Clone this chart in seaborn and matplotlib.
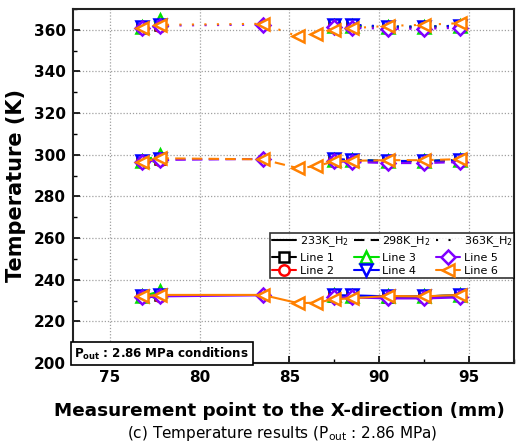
import numpy as np
import pandas as pd
import matplotlib
matplotlib.use("Agg")
import matplotlib.pyplot as plt
import seaborn as sns
from matplotlib.lines import Line2D
from matplotlib.ticker import AutoMinorLocator

# measurement positions (mm)
x_short = [76.8, 77.8, 87.5, 88.5, 90.5, 92.5, 94.5]
x_line5 = [76.8, 77.8, 83.5, 87.5, 88.5, 90.5, 92.5, 94.5]
x_line6 = [76.8, 77.8, 83.5, 85.5, 86.5, 87.5, 88.5, 90.5, 92.5, 94.5]

# 233K_H2
t233_l1 = [232.0, 232.5, 232.0, 232.0, 231.5, 232.0, 232.5]
t233_l2 = [231.5, 232.0, 232.0, 231.5, 231.5, 231.5, 232.0]
t233_l3 = [232.0, 234.5, 232.5, 232.0, 232.0, 232.0, 232.5]
t233_l4 = [232.0, 232.5, 232.5, 232.5, 232.0, 232.0, 232.5]
t233_l5 = [231.5, 232.0, 232.5, 231.5, 231.5, 231.0, 231.0, 231.5]
t233_l6 = [232.0, 232.7, 232.7, 228.7, 229.0, 230.6, 231.1, 232.2, 232.0, 232.7]

# 298K_H2
t298_l1 = [297.0, 298.0, 297.5, 297.5, 297.0, 297.0, 297.5]
t298_l2 = [296.5, 297.5, 297.0, 297.0, 296.5, 297.0, 297.0]
t298_l3 = [297.0, 300.0, 297.5, 297.5, 297.0, 297.0, 297.5]
t298_l4 = [297.0, 298.0, 298.0, 297.5, 297.0, 297.0, 297.5]
t298_l5 = [296.5, 297.5, 298.0, 297.0, 296.5, 296.0, 296.0, 296.5]
t298_l6 = [296.7, 298.3, 297.8, 293.5, 294.6, 296.8, 297.1, 297.4, 297.4, 297.9]

# 363K_H2
t363_l1 = [361.5, 362.5, 362.0, 362.0, 361.5, 361.5, 362.0]
t363_l2 = [361.0, 362.0, 361.5, 361.5, 361.0, 361.0, 361.5]
t363_l3 = [361.5, 364.8, 362.0, 362.0, 361.5, 361.5, 362.0]
t363_l4 = [361.5, 362.5, 362.5, 362.5, 361.5, 361.5, 362.0]
t363_l5 = [361.0, 362.0, 362.5, 361.5, 361.0, 360.5, 360.5, 361.0]
t363_l6 = [360.8, 362.4, 362.9, 356.8, 358.1, 360.0, 360.8, 361.9, 362.4, 363.2]

series_names = ["Line 1", "Line 2", "Line 3", "Line 4", "Line 5", "Line 6"]
colors = ["black", "#ff0000", "#00e000", "#0000ff", "#8000ff", "#ff8000"]
markers = ["s", "o", "^", "v", "D", "<"]
msizes = [7.5, 8, 9, 9, 7.5, 9]

sns.set_theme(style="ticks")
plt.rcParams["font.family"] = ["DejaVu Sans"]
plt.rcParams["text.color"] = "black"
plt.rcParams["axes.labelcolor"] = "black"
plt.rcParams["xtick.color"] = "black"
plt.rcParams["ytick.color"] = "black"

fig, ax = plt.subplots(figsize=(5.16, 4.45), dpi=100)
fig.subplots_adjust(left=73 / 516, right=514 / 516, top=1 - 9 / 445, bottom=1 - 363 / 445)

groups = [
    ("233K", "-", [t233_l1, t233_l2, t233_l3, t233_l4, t233_l5, t233_l6]),
    ("298K", (0, (5, 3)), [t298_l1, t298_l2, t298_l3, t298_l4, t298_l5, t298_l6]),
    ("363K", (0, (1, 5)), [t363_l1, t363_l2, t363_l3, t363_l4, t363_l5, t363_l6]),
]


def segments(i, x, y):
    # lines 1-5 are not joined across the 78-87 mm gap
    x = np.asarray(x)
    y = np.asarray(y)
    if i == 5:
        return [(x, y)]
    cut = 3 if i == 4 else 2
    return [(x[:cut], y[:cut]), (x[cut:], y[cut:])]


for temp, ls, ys in groups:
    for i, y in enumerate(ys):
        x = x_line6 if i == 5 else (x_line5 if i == 4 else x_short)
        for xs, yseg in segments(i, x, y):
            sns.lineplot(x=xs, y=yseg, ax=ax, color=colors[i], linestyle=ls,
                         linewidth=1.5, marker=markers[i], markersize=msizes[i],
                         markerfacecolor="white", markeredgecolor=colors[i],
                         markeredgewidth=1.8, sort=False, zorder=3 + i)

ax.set_xlim(72.95, 97.5)
ax.set_ylim(200, 370)
ax.set_xticks([75, 80, 85, 90, 95])
ax.set_yticks(np.arange(200, 361, 20))
ax.xaxis.set_minor_locator(AutoMinorLocator(2))
ax.yaxis.set_minor_locator(AutoMinorLocator(2))
ax.grid(True, which="major", color="#a0a0a0", linestyle=(0, (1, 1.5)), linewidth=0.9)
ax.set_axisbelow(True)
for s in ax.spines.values():
    s.set_linewidth(1.5)
    s.set_color("#222222")
ax.tick_params(axis="both", which="major", direction="in", labelsize=11,
               width=1.2, length=5, pad=5)
ax.tick_params(axis="both", which="minor", direction="in", width=1.0, length=3)
ax.tick_params(axis="x", which="both", top=False)
for lab in ax.get_xticklabels() + ax.get_yticklabels():
    lab.set_fontweight("bold")

ax.set_ylabel("Temperature (K)", fontsize=15, fontweight="bold", labelpad=6)
ax.set_xlabel("Measurement point to the X-direction (mm)", fontsize=13.2,
              fontweight="bold")
ax.xaxis.set_label_coords(0.469, -0.11)
fig.text(0.548, 0.004, "(c) Temperature results (P$_{\\mathregular{out}}$ : 2.86 MPa)",
         ha="center", va="bottom", fontsize=11)

ax.text(0.003, 0.004, "P$_{\\mathbf{out}}$ : 2.86 MPa conditions", transform=ax.transAxes,
        ha="left", va="bottom", fontsize=8.6, fontweight="bold", zorder=20,
        bbox=dict(boxstyle="square,pad=0.3", fc="white", ec="black", lw=1.2))


def series_handle(i):
    return Line2D([], [], color=colors[i], linestyle="-", linewidth=1.5,
                  marker=markers[i], markersize=msizes[i] - 0.5, markerfacecolor="white",
                  markeredgecolor=colors[i], markeredgewidth=1.8)


h233 = Line2D([], [], color="black", linestyle="-", linewidth=1.5)
h298 = Line2D([], [], color="black", linestyle=(0, (5, 3)), linewidth=1.5)
h363 = Line2D([], [], color="black", linestyle=(0, (1, 5)), linewidth=1.5)
handles = [h233, series_handle(0), series_handle(1),
           h298, series_handle(2), series_handle(3),
           h363, series_handle(4), series_handle(5)]
labels = ["233K_H$_2$", series_names[0], series_names[1],
          "298K_H$_2$", series_names[2], series_names[3],
          "363K_H$_2$", series_names[4], series_names[5]]
leg = ax.legend(handles, labels, ncol=3, loc="upper right",
                bbox_to_anchor=(1.0, 0.368), fontsize=8, frameon=True,
                fancybox=False, edgecolor="black", handlelength=2.2,
                handletextpad=0.3, columnspacing=0.5, labelspacing=0.3,
                borderpad=0.15, borderaxespad=0.0)
leg.get_frame().set_linewidth(1.2)
leg.set_zorder(30)

fig.savefig("out.png", dpi=100)
